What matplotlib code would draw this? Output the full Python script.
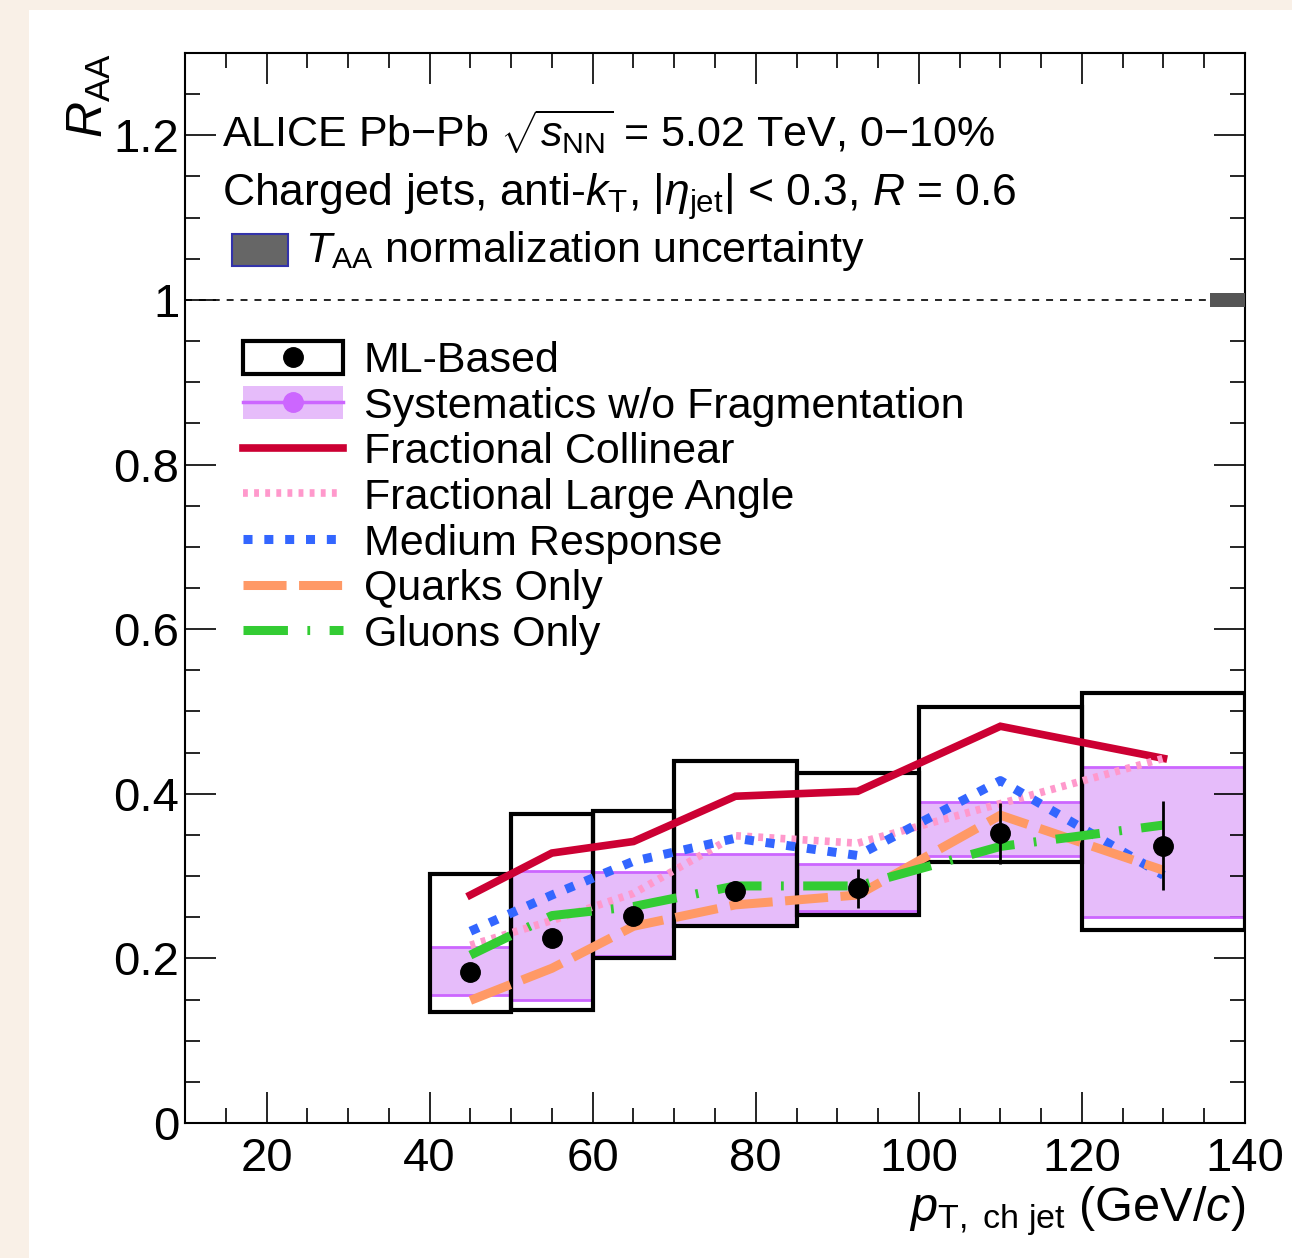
import numpy as np
import matplotlib
matplotlib.use('Agg')
import matplotlib.pyplot as plt
from matplotlib.patches import Rectangle, Patch
from matplotlib.lines import Line2D

plt.rcParams['font.family'] = 'Liberation Sans'
plt.rcParams['mathtext.fontset'] = 'custom'
plt.rcParams['mathtext.rm'] = 'Liberation Sans'
plt.rcParams['mathtext.it'] = 'Liberation Sans:italic'
plt.rcParams['lines.scale_dashes'] = False

#data
#============================================================
bin_edges = [40, 50, 60, 70, 85, 100, 120, 140]
pt = [45, 55, 65, 77.5, 92.5, 110, 130]
raa = [0.183, 0.225, 0.251, 0.282, 0.285, 0.352, 0.337]
stat = [0.008, 0.010, 0.010, 0.012, 0.024, 0.037, 0.054]
sys_lo = [0.135, 0.137, 0.200, 0.239, 0.253, 0.317, 0.234]
sys_hi = [0.303, 0.376, 0.379, 0.440, 0.425, 0.505, 0.523]
nofrag_lo = [0.155, 0.149, 0.203, 0.241, 0.258, 0.324, 0.250]
nofrag_hi = [0.214, 0.306, 0.305, 0.327, 0.315, 0.390, 0.433]

collinear = [0.277, 0.328, 0.342, 0.397, 0.403, 0.482, 0.443]
large_angle = [0.216, 0.246, 0.279, 0.349, 0.340, 0.388, 0.443]
medium = [0.233, 0.277, 0.318, 0.346, 0.325, 0.416, 0.301]
quarks = [0.149, 0.188, 0.239, 0.265, 0.277, 0.374, 0.307]
gluons = [0.204, 0.252, 0.263, 0.288, 0.288, 0.336, 0.362]

taa_unc = 0.009
#============================================================

edges = np.asarray(bin_edges)
widths = np.diff(edges)
lo = np.asarray(sys_lo)
hi = np.asarray(sys_hi)
nlo = np.asarray(nofrag_lo)
nhi = np.asarray(nofrag_hi)

purple_fill = '#e6bcfa'
purple_line = '#cc66ff'
c_red = '#cc0033'
c_pink = '#ff99cc'
c_blue = '#3366ff'
c_orange = '#ff9966'
c_green = '#33cc33'

fig = plt.figure(figsize=(12.92, 12.58), dpi=100)
fig.patch.set_facecolor('#f9f0e7')
fig.patches.append(Rectangle((29 / 1292, 0), 1 - 29 / 1292, 1 - 10 / 1258,
                             transform=fig.transFigure, facecolor='white',
                             edgecolor='none', zorder=-10))

ax = fig.add_axes([185 / 1292, (1258 - 1123) / 1258, 1060 / 1292, 1070 / 1258])
ax.set_zorder(1)
ax.patch.set_alpha(0)

#systematics without fragmentation (filled band, lines at top and bottom)
ax.bar(edges[:-1], nhi - nlo, width=widths, bottom=nlo, align='edge',
       color=purple_fill, edgecolor='none', zorder=1)
ax.hlines(nhi, edges[:-1], edges[1:], color=purple_line, lw=2, zorder=2)
ax.hlines(nlo, edges[:-1], edges[1:], color=purple_line, lw=2, zorder=2)

#full systematic boxes
ax.bar(edges[:-1], hi - lo, width=widths, bottom=lo, align='edge',
       fill=False, edgecolor='black', lw=3, zorder=3)

#model curves
lw = 5.5
ax.plot(pt, collinear, color=c_red, lw=lw, solid_joinstyle='miter', zorder=4)
ax.plot(pt, large_angle, color=c_pink, lw=lw, dashes=(3.5, 4.5), zorder=4)
ax.plot(pt, medium, color=c_blue, lw=lw + 1, dashes=(6.5, 8.5), zorder=4)
ax.plot(pt, quarks, color=c_orange, lw=lw + 1, dashes=(31, 9), zorder=4)
ax.plot(pt, gluons, color=c_green, lw=lw + 1, dashes=(32, 14, 2, 14), zorder=4)

#data points
ax.errorbar(pt, raa, yerr=stat, fmt='o', color='black', ms=14, elinewidth=2,
            capsize=0, zorder=6)

#unity line and TAA normalization box
ax.axhline(1.0, color='black', lw=1.2, dashes=(5, 5), zorder=2)
ax.bar(138, 2 * taa_unc, width=4.5, bottom=1 - taa_unc, color='#555555',
       edgecolor='none', zorder=3)

ax.set_xlim(10, 140)
ax.set_ylim(0, 1.3)
ax.set_xticks([20, 40, 60, 80, 100, 120, 140])
ax.set_xticks(np.arange(10, 141, 5), minor=True)
ax.set_yticks([0, 0.2, 0.4, 0.6, 0.8, 1.0, 1.2])
ax.set_yticklabels(['0', '0.2', '0.4', '0.6', '0.8', '1', '1.2'])
ax.set_yticks(np.arange(0, 1.3, 0.05), minor=True)
ax.tick_params(which='both', direction='in', top=True, right=True,
               labelsize=34, width=1.2)
ax.tick_params(which='major', length=22)
ax.tick_params(which='minor', length=11)
ax.tick_params(axis='x', pad=10)
ax.tick_params(axis='y', pad=4)
for s in ax.spines.values():
    s.set_linewidth(1.5)

ax.text(-0.09, 1.0, r'$R_{\rm AA}$', transform=ax.transAxes, rotation=90,
        ha='center', va='top', fontsize=36)
ax.text(1.0, -0.082, r'$p_{\rm T,\ ch\ jet}$ (GeV/$c$)', transform=ax.transAxes,
        ha='right', va='center', fontsize=35)

#header text
ax.text(0.035, 1.204, r'ALICE Pb$-$Pb $\sqrt{s_{\rm NN}}$ = 5.02 TeV, 0$-$10%',
        transform=ax.get_yaxis_transform(), ha='left', va='center', fontsize=31)
ax.text(0.035, 1.125, r'Charged jets, anti-$k_{\rm T}$, $|\eta_{\rm jet}|$ < 0.3, $R$ = 0.6',
        transform=ax.get_yaxis_transform(), ha='left', va='center', fontsize=32)
ax.add_patch(Rectangle((47 / 1060, (1125 - 268) / 1070), 56 / 1060, 32 / 1070,
                       transform=ax.transAxes, facecolor='#666666',
                       edgecolor='#3333aa', lw=1.5, zorder=5))
ax.text(0.113, 1.059, r'$T_{\rm AA}$ normalization uncertainty',
        transform=ax.get_yaxis_transform(), ha='left', va='center', fontsize=31)

#legend
h_ml = (Rectangle((0, 0), 1, 1, facecolor='white', edgecolor='black', lw=3),
        Line2D([], [], marker='o', color='black', ls='none', ms=14))
h_sys = (Patch(facecolor=purple_fill, edgecolor='none'),
         Line2D([], [], marker='o', color=purple_line, lw=2.5, ms=14))
handles = [h_ml, h_sys,
           Line2D([], [], color=c_red, lw=lw),
           Line2D([], [], color=c_pink, lw=lw, dashes=(3.5, 4.5)),
           Line2D([], [], color=c_blue, lw=lw + 1, dashes=(6.5, 8.5)),
           Line2D([], [], color=c_orange, lw=lw + 1, dashes=(31, 9)),
           Line2D([], [], color=c_green, lw=lw + 1, dashes=(32, 14, 2, 14))]
labels = ['ML-Based', 'Systematics w/o Fragmentation', 'Fractional Collinear',
          'Fractional Large Angle', 'Medium Response', 'Quarks Only', 'Gluons Only']
ax.legend(handles, labels, loc='upper left', bbox_to_anchor=(0.0547, 0.731),
          frameon=False, fontsize=31, handlelength=2.33, handleheight=0.8,
          handletextpad=0.47, labelspacing=0.12, borderaxespad=0, borderpad=0)

fig.savefig('out.png', dpi=100, facecolor=fig.get_facecolor())
